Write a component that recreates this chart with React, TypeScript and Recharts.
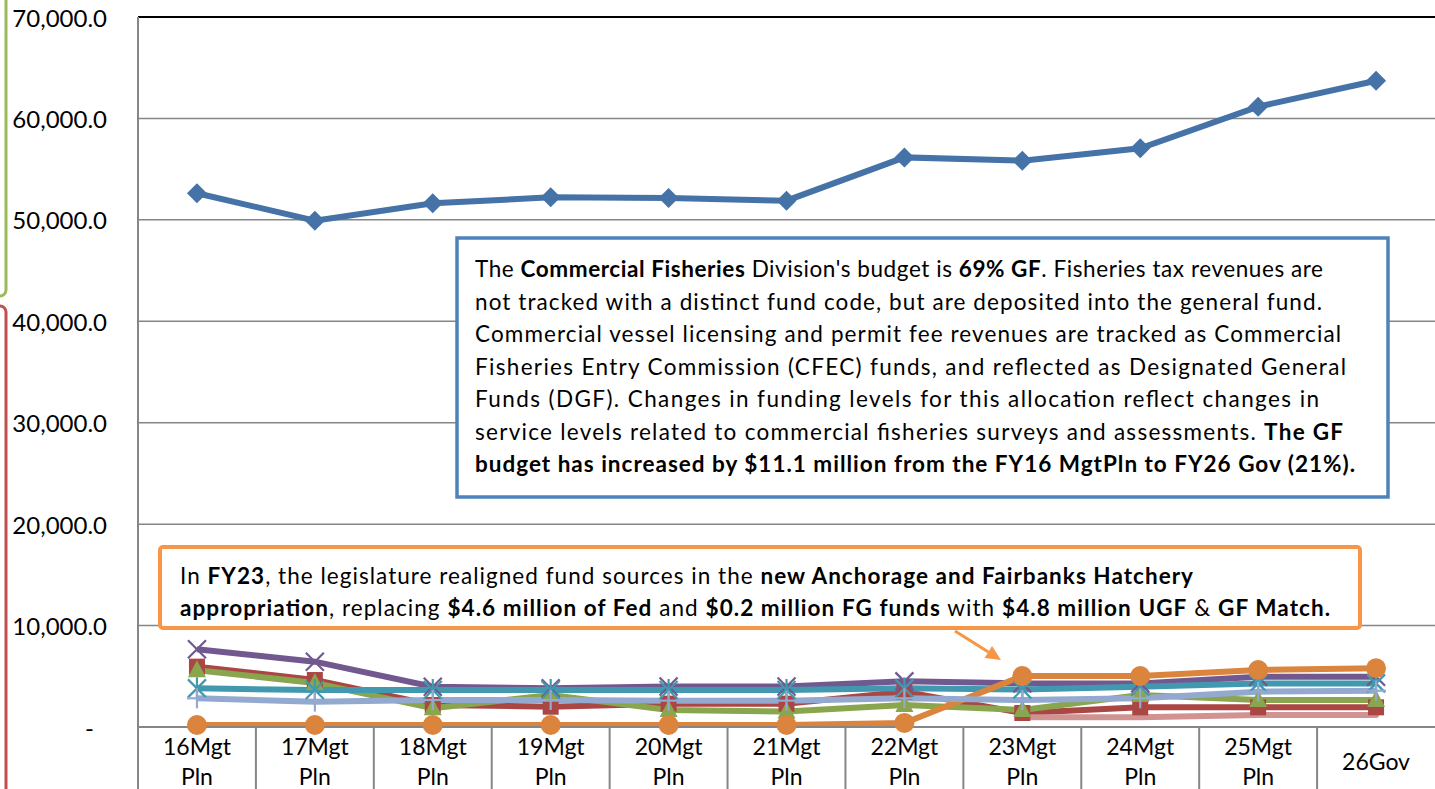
import React from 'react';
import { LineChart, Line, XAxis, YAxis, CartesianGrid, ReferenceLine } from 'recharts';

// ---------- data ----------
const categories = ['16Mgt Pln', '17Mgt Pln', '18Mgt Pln', '19Mgt Pln', '20Mgt Pln', '21Mgt Pln', '22Mgt Pln', '23Mgt Pln', '24Mgt Pln', '25Mgt Pln', '26Gov'];
const gfTotal = [52620, 49920, 51630, 52220, 52150, 51890, 56160, 55830, 57050, 61160, 63720];
const redSeries = [5950, 4630, 2170, 2000, 2300, 2300, 3480, 1380, 1940, 1940, 1940];
const greenSeries = [5600, 4340, 1840, 3150, 1680, 1520, 2170, 1680, 3150, 2660, 2660];
const purpleSeries = [7660, 6440, 3970, 3810, 4000, 4000, 4500, 4300, 4300, 4960, 4960];
const tealSeries = [3810, 3650, 3650, 3650, 3650, 3650, 3810, 3700, 3970, 4300, 4300];
const orangeSeries = [200, 200, 200, 200, 200, 200, 400, 5030, 5030, 5620, 5790];
const lightBlueSeries = [2830, 2500, 2660, 2660, 2600, 2600, 2830, 2660, 2830, 3480, 3580];
const pinkSeries: (number | null)[] = [null, null, null, null, null, null, null, 960, 960, 1180, 1180];
const yTicks = [0, 10000, 20000, 30000, 40000, 50000, 60000, 70000];

const data = categories.map((cat, i) => ({
  cat,
  gf: gfTotal[i],
  red: redSeries[i],
  green: greenSeries[i],
  purple: purpleSeries[i],
  teal: tealSeries[i],
  orange: orangeSeries[i],
  lightBlue: lightBlueSeries[i],
  pink: pinkSeries[i],
}));

// ---------- layout ----------
const W = 1435;
const H = 789;
const LEFT = 138;
const TOP = 17;
const BOTTOM = 727;
const BAND = (W - LEFT) / categories.length;
const FONT = 'Lato, "Open Sans", sans-serif';
const GRID = '#868686';

const C = {
  blue: '#4572A7',
  red: '#AA4643',
  green: '#89A54E',
  purple: '#71588F',
  teal: '#4198AF',
  orange: '#DB843D',
  lightBlue: '#93A9CF',
  pink: '#D19392',
};

// ---------- ticks ----------
const XTick = (props: any) => {
  const { x, payload } = props;
  const parts = String(payload.value).split(' ');
  return (
    <g>
      <line x1={x - BAND / 2} x2={x - BAND / 2} y1={BOTTOM} y2={H} stroke={GRID} strokeWidth={2} />
      {parts.length === 1 ? (
        <text x={x} y={761} textAnchor="middle" dominantBaseline="central" fontFamily={FONT} fontSize={23} fill="#000">
          {parts[0]}
        </text>
      ) : (
        parts.map((p: string, i: number) => (
          <text key={i} x={x} y={746 + i * 30} textAnchor="middle" dominantBaseline="central" fontFamily={FONT} fontSize={23} fill="#000">
            {p}
          </text>
        ))
      )}
    </g>
  );
};

const YTick = (props: any) => {
  const { y, payload } = props;
  const v = Number(payload.value);
  const label = v === 0 ? '-' : v.toLocaleString('en-US', { minimumFractionDigits: 1, maximumFractionDigits: 1 });
  return (
    <text x={v === 0 ? 94 : 107} y={y} textAnchor="end" dominantBaseline="central" fontFamily={FONT} fontSize={24} fill="#000">
      {label}
    </text>
  );
};

// ---------- markers ----------
const empty = (k: any) => <g key={k} />;

const diamond = (p: any) => {
  const { cx, cy, index } = p;
  if (cx == null || cy == null) return empty(index);
  const s = 10;
  return <polygon key={index} points={`${cx},${cy - s} ${cx + s},${cy} ${cx},${cy + s} ${cx - s},${cy}`} fill={C.blue} />;
};
const square = (p: any) => {
  const { cx, cy, index } = p;
  if (cx == null || cy == null) return empty(index);
  return <rect key={index} x={cx - 8} y={cy - 8} width={16} height={16} fill={C.red} />;
};
const triangle = (p: any) => {
  const { cx, cy, index } = p;
  if (cx == null || cy == null) return empty(index);
  return <polygon key={index} points={`${cx},${cy - 10} ${cx + 9},${cy + 7} ${cx - 9},${cy + 7}`} fill={C.green} />;
};
const cross = (p: any) => {
  const { cx, cy, index } = p;
  if (cx == null || cy == null) return empty(index);
  const s = 9;
  return (
    <g key={index} stroke={C.purple} strokeWidth={2.2}>
      <line x1={cx - s} y1={cy - s} x2={cx + s} y2={cy + s} />
      <line x1={cx - s} y1={cy + s} x2={cx + s} y2={cy - s} />
    </g>
  );
};
const star = (p: any) => {
  const { cx, cy, index } = p;
  if (cx == null || cy == null) return empty(index);
  const s = 9;
  return (
    <g key={index} stroke={C.teal} strokeWidth={2.2}>
      <line x1={cx - s} y1={cy - s} x2={cx + s} y2={cy + s} />
      <line x1={cx - s} y1={cy + s} x2={cx + s} y2={cy - s} />
      <line x1={cx} y1={cy - s - 2} x2={cx} y2={cy + s + 2} />
    </g>
  );
};
const circle = (p: any) => {
  const { cx, cy, index } = p;
  if (cx == null || cy == null) return empty(index);
  return <circle key={index} cx={cx} cy={cy} r={10} fill={C.orange} />;
};
const plus = (p: any) => {
  const { cx, cy, index } = p;
  if (cx == null || cy == null) return empty(index);
  const s = 10;
  return (
    <g key={index} stroke={C.lightBlue} strokeWidth={2.2}>
      <line x1={cx - s} y1={cy} x2={cx + s} y2={cy} />
      <line x1={cx} y1={cy - s} x2={cx} y2={cy + s} />
    </g>
  );
};

// ---------- annotation text ----------
type Seg = [string, boolean];
const blueLines: Seg[][] = [
  [['The ', false], ['Commercial Fisheries', true], [" Division's budget is ", false], ['69% GF', true], ['. Fisheries tax revenues are', false]],
  [['not tracked with a distinct fund code, but are deposited into the general fund.', false]],
  [['Commercial vessel licensing and permit fee revenues are tracked as Commercial', false]],
  [['Fisheries Entry Commission (CFEC) funds, and reflected as Designated General', false]],
  [['Funds (DGF). Changes in funding levels for this allocation reflect changes in', false]],
  [['service levels related to commercial fisheries surveys and assessments. ', false], ['The GF', true]],
  [['budget has increased by $11.1 million from the FY16 MgtPln to FY26 Gov (21%).', true]],
];
const blueEnds = [1323, 1322, 1341, 1346, 1319, 1343, 1355];

const orangeLines: Seg[][] = [
  [['In ', false], ['FY23', true], [', the legislature realigned fund sources in the ', false], ['new Anchorage and Fairbanks Hatchery', true]],
  [['appropriation', true], [', replacing ', false], ['$4.6 million of Fed', true], [' and ', false], ['$0.2 million FG funds', true], [' with ', false], ['$4.8 million UGF', true], [' & ', false], ['GF Match.', true]],
];
const orangeEnds = [1193, 1330];

const TextLines = ({ lines, ends, x0, y0, gap, size }: { lines: Seg[][]; ends: number[]; x0: number; y0: number; gap: number; size: number }) => (
  <g>
    {lines.map((segs, i) => (
      <text
        key={i}
        x={x0}
        y={y0 + i * gap}
        dominantBaseline="central"
        fontFamily={FONT}
        fontSize={size}
        fill="#000"
        textLength={ends[i] - x0}
        lengthAdjust="spacing"
        xmlSpace="preserve"
        style={{ whiteSpace: 'pre' }}
      >
        {segs.map(([t, b], j) => (
          <tspan key={j} fontWeight={b ? 700 : 400}>
            {t}
          </tspan>
        ))}
      </text>
    ))}
  </g>
);

// arrow geometry
const AX1 = 955, AY1 = 631, AX2 = 1001, AY2 = 660;
const alen = Math.hypot(AX2 - AX1, AY2 - AY1);
const ux = (AX2 - AX1) / alen, uy = (AY2 - AY1) / alen;
const bx = AX2 - 15 * ux, by = AY2 - 15 * uy;
const headPts = `${AX2},${AY2} ${bx - 7 * uy},${by + 7 * ux} ${bx + 7 * uy},${by - 7 * ux}`;

export default function App() {
  return (
    <div style={{ position: 'absolute', left: 0, top: 0, width: W, height: H, background: '#fff', overflow: 'hidden' }}>
      <LineChart width={W} height={H} data={data} margin={{ top: TOP, right: 0, bottom: 0, left: 0 }}>
        <CartesianGrid horizontal vertical={false} stroke={GRID} strokeWidth={1.5} />
        <XAxis
          dataKey="cat"
          interval={0}
          height={H - BOTTOM}
          padding={{ left: BAND / 2, right: BAND / 2 }}
          axisLine={{ stroke: GRID, strokeWidth: 2 }}
          tickLine={false}
          tick={<XTick />}
        />
        <YAxis
          domain={[0, 70000]}
          ticks={yTicks}
          width={LEFT}
          axisLine={{ stroke: GRID, strokeWidth: 2 }}
          tickLine={false}
          tick={<YTick />}
        />
        <ReferenceLine y={70000} stroke="#000" strokeWidth={2} />
        <Line dataKey="gf" stroke={C.blue} strokeWidth={6} dot={diamond} activeDot={false} isAnimationActive={false} />
        <Line dataKey="red" stroke={C.red} strokeWidth={6} dot={square} activeDot={false} isAnimationActive={false} />
        <Line dataKey="green" stroke={C.green} strokeWidth={6} dot={triangle} activeDot={false} isAnimationActive={false} />
        <Line dataKey="purple" stroke={C.purple} strokeWidth={6} dot={cross} activeDot={false} isAnimationActive={false} />
        <Line dataKey="teal" stroke={C.teal} strokeWidth={6} dot={star} activeDot={false} isAnimationActive={false} />
        <Line dataKey="orange" stroke={C.orange} strokeWidth={6} dot={circle} activeDot={false} isAnimationActive={false} />
        <Line dataKey="lightBlue" stroke={C.lightBlue} strokeWidth={6} dot={plus} activeDot={false} isAnimationActive={false} />
        <Line dataKey="pink" stroke={C.pink} strokeWidth={6} strokeLinecap="round" dot={false} activeDot={false} connectNulls={false} isAnimationActive={false} />
      </LineChart>
      <svg width={W} height={H} style={{ position: 'absolute', left: 0, top: 0, pointerEvents: 'none' }}>
        <rect x={-20} y={-20} width={26} height={316} rx={6} fill="none" stroke="#9BBB59" strokeWidth={3} />
        <rect x={-20} y={306} width={26} height={520} rx={6} fill="none" stroke="#C0504D" strokeWidth={3} />
        <rect x={457} y={238} width={931} height={259} fill="#fff" stroke="#4F81BD" strokeWidth={3.5} />
        <TextLines lines={blueLines} ends={blueEnds} x0={475} y0={268} gap={32.5} size={22.5} />
        <rect x={160} y={547} width={1200} height={81} rx={3} fill="#fff" stroke="#F79646" strokeWidth={4} />
        <TextLines lines={orangeLines} ends={orangeEnds} x0={180} y0={575} gap={32} size={22.5} />
        <line x1={AX1} y1={AY1} x2={bx} y2={by} stroke="#F79646" strokeWidth={3} />
        <polygon points={headPts} fill="#F79646" />
      </svg>
    </div>
  );
}
